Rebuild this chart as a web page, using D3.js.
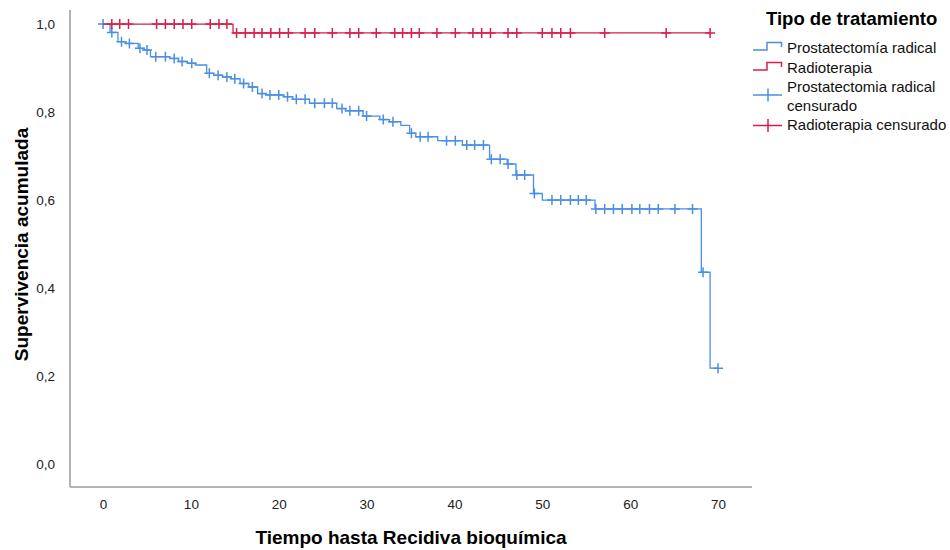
<!DOCTYPE html>
<html>
<head>
<meta charset="utf-8">
<script src="https://cdn.jsdelivr.net/npm/d3@7"></script>
<style>
  body { margin: 0; background: #fff; }
  text { font-family: "Liberation Sans", Arial, sans-serif; }
</style>
</head>
<body>
<svg id="chart" width="950" height="550"></svg>
<script>
// Prostatectomía radical: time of each drop and survival after it
const prostTimes = [0, 0.8, 1.7, 2.6, 4.0, 4.7, 5.4, 7.6, 8.6, 9.6, 10.5, 11.8, 12.6, 13.6, 14.6, 15.6, 16.6, 17.6, 18.6, 20.6, 21.6, 23.5, 26.6, 27.6, 29.6, 31.5, 32.6, 33.9, 34.9, 35.6, 38.1, 40.9, 44.0, 46.0, 47.0, 49.0, 50.0, 56.0, 68.1, 69.1];
const prostSurv = [1.0, 0.981, 0.960, 0.956, 0.945, 0.941, 0.926, 0.922, 0.915, 0.911, 0.907, 0.888, 0.884, 0.880, 0.876, 0.865, 0.857, 0.842, 0.839, 0.835, 0.829, 0.820, 0.808, 0.803, 0.791, 0.783, 0.778, 0.770, 0.752, 0.744, 0.735, 0.725, 0.693, 0.682, 0.657, 0.615, 0.600, 0.580, 0.436, 0.218];
const prostCensored = [0, 1.0, 2.1, 3.0, 4.2, 5.0, 6.0, 7.1, 8.1, 9.0, 10.1, 12.1, 13.1, 14.1, 15.0, 16.0, 17.0, 18.1, 19.0, 20.0, 21.0, 22.0, 23.0, 24.1, 25.2, 26.1, 27.2, 28.1, 29.1, 30.0, 31.9, 33.0, 35.1, 36.1, 37.0, 39.1, 40.1, 41.4, 42.3, 43.3, 44.2, 45.2, 46.1, 47.1, 48.0, 49.1, 51.1, 52.1, 53.2, 54.1, 55.0, 56.1, 57.1, 58.1, 59.1, 60.2, 61.1, 62.2, 63.2, 65.1, 67.1, 68.3, 70.0];

// Radioterapia
const radioTimes = [0, 14.8];
const radioSurv = [1.0, 0.98];
const radioCensored = [1.0, 1.9, 2.9, 6.1, 7.1, 8.1, 9.1, 10.1, 12.2, 13.2, 14.1, 15.2, 16.2, 17.2, 18.1, 19.1, 20.1, 21.1, 23.0, 24.1, 26.1, 28.1, 29.1, 31.1, 33.2, 34.1, 35.1, 36.0, 38.0, 40.1, 42.1, 43.1, 44.1, 46.1, 47.1, 50.0, 51.1, 52.1, 53.2, 57.1, 64.1, 69.1];

const xTicks = [0, 10, 20, 30, 40, 50, 60, 70];
const yTicks = [0, 0.2, 0.4, 0.6, 0.8, 1.0];

const legendTitle = "Tipo de tratamiento";
const legendItems = [
  { label: ["Prostatectomía radical"], kind: "step", color: "#4a8fe2" },
  { label: ["Radioterapia"], kind: "step", color: "#d81e4a" },
  { label: ["Prostatectomia radical", "censurado"], kind: "cross", color: "#4a8fe2" },
  { label: ["Radioterapia censurado"], kind: "cross", color: "#d81e4a" }
];

const blue = "#4a8fe2";
const red = "#d81e4a";

const svg = d3.select("#chart");

const plot = { left: 70, right: 752, top: 10, bottom: 487 };

const x = d3.scaleLinear().domain([-3.76, 73.87]).range([plot.left, plot.right]);
const y = d3.scaleLinear().domain([-0.052, 1.032]).range([plot.bottom, plot.top]);

// axes lines
svg.append("line")
  .attr("x1", plot.left).attr("x2", plot.left)
  .attr("y1", plot.top).attr("y2", plot.bottom)
  .attr("stroke", "#9a9a9a").attr("stroke-width", 1.5);
svg.append("line")
  .attr("x1", plot.left).attr("x2", plot.right)
  .attr("y1", plot.bottom).attr("y2", plot.bottom)
  .attr("stroke", "#9a9a9a").attr("stroke-width", 1.5);

const xAxis = svg.append("g")
  .attr("transform", "translate(0," + plot.bottom + ")")
  .call(d3.axisBottom(x).tickValues(xTicks).tickSize(0).tickPadding(12));
xAxis.select(".domain").remove();
xAxis.selectAll("text")
  .style("font-size", "13.5px")
  .style("font-family", "'Liberation Sans', Arial, sans-serif")
  .attr("fill", "#222");

const yAxis = svg.append("g")
  .attr("transform", "translate(" + plot.left + ",0)")
  .call(d3.axisLeft(y).tickValues(yTicks).tickSize(0).tickPadding(15)
    .tickFormat(d => d3.format(".1f")(d).replace(".", ",")));
yAxis.select(".domain").remove();
yAxis.selectAll("text")
  .style("font-size", "13.5px")
  .style("font-family", "'Liberation Sans', Arial, sans-serif")
  .attr("fill", "#222");

// axis titles
svg.append("text")
  .attr("x", (plot.left + plot.right) / 2)
  .attr("y", 544)
  .attr("text-anchor", "middle")
  .style("font-size", "19px")
  .style("font-weight", "bold")
  .text("Tiempo hasta Recidiva bioquímica");

svg.append("text")
  .attr("transform", "translate(28," + ((plot.top + plot.bottom) / 2 - 4) + ") rotate(-90)")
  .attr("text-anchor", "middle")
  .style("font-size", "19px")
  .style("font-weight", "bold")
  .text("Supervivencia acumulada");

// step curves
function stepPoints(times, surv, censored) {
  const pts = times.map((t, i) => [t, surv[i]]);
  const end = d3.max(censored);
  pts.push([end, surv[surv.length - 1]]);
  return pts;
}

function survAt(times, surv, t) {
  let s = surv[0];
  times.forEach((tt, i) => { if (tt <= t) s = surv[i]; });
  return s;
}

const line = d3.line()
  .x(d => x(d[0]))
  .y(d => y(d[1]))
  .curve(d3.curveStepAfter);

const series = [
  { times: prostTimes, surv: prostSurv, censored: prostCensored, color: blue },
  { times: radioTimes, surv: radioSurv, censored: radioCensored, color: red }
];

series.forEach(s => {
  svg.append("path")
    .datum(stepPoints(s.times, s.surv, s.censored))
    .attr("d", line)
    .attr("fill", "none")
    .attr("stroke", s.color)
    .attr("stroke-width", 1.3);

  const marks = svg.append("g");
  s.censored.forEach(t => {
    const cx = x(t), cy = y(survAt(s.times, s.surv, t));
    marks.append("path")
      .attr("d", "M" + (cx - 5) + "," + cy + "H" + (cx + 5) + "M" + cx + "," + (cy - 5) + "V" + (cy + 5))
      .attr("stroke", s.color)
      .attr("stroke-width", 1.5)
      .attr("fill", "none");
  });
});

// legend
const legend = svg.append("g");
legend.append("text")
  .attr("x", 766).attr("y", 25)
  .style("font-size", "18.5px")
  .style("font-weight", "bold")
  .text(legendTitle);

const labelY = [53, 73, 92, 130];
legendItems.forEach((item, k) => {
  const ly = labelY[k];
  const g = legend.append("g");
  if (item.kind === "step") {
    g.append("path")
      .attr("d", "M753," + (ly - 3) + "H767V" + (ly - 10.5) + "H781.5V" + (ly - 6))
      .attr("fill", "none").attr("stroke", item.color).attr("stroke-width", 1.5);
  } else {
    const my = k === 2 ? ly + 3 : ly - 4.5;
    g.append("path")
      .attr("d", "M753," + my + "H782M768," + (my - 6.5) + "V" + (my + 6.5))
      .attr("fill", "none").attr("stroke", item.color).attr("stroke-width", 1.5);
  }
  item.label.forEach((l, i) => {
    g.append("text")
      .attr("x", 787).attr("y", ly + i * 19)
      .style("font-size", "15px")
      .attr("fill", "#111")
      .text(l);
  });
});
</script>
</body>
</html>
